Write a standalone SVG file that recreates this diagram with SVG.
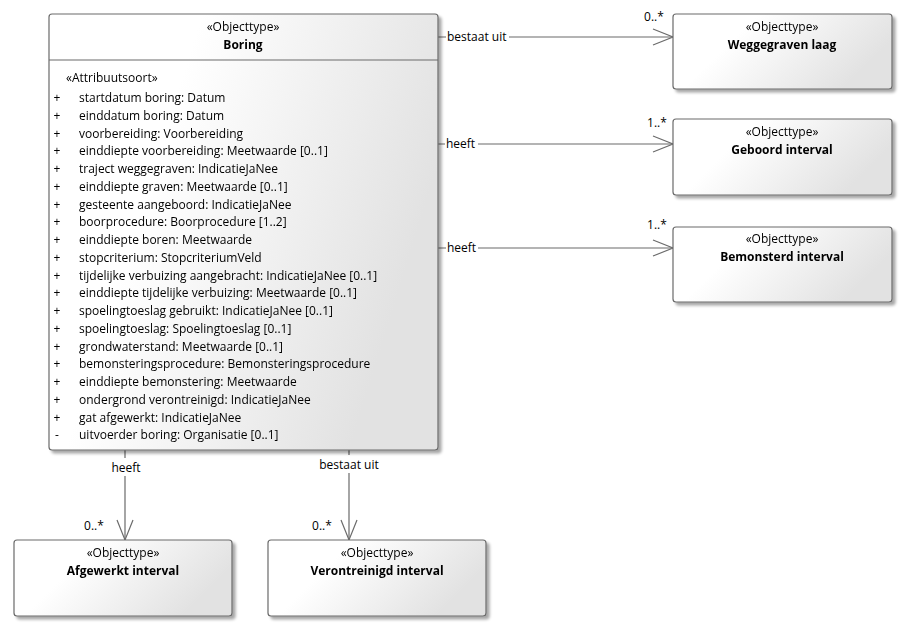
<svg xmlns="http://www.w3.org/2000/svg" width="907" height="632" viewBox="0 0 907 632">
<defs>
<linearGradient id="g" x1="0" y1="0" x2="1" y2="0.35">
<stop offset="0.35" stop-color="#ffffff"/>
<stop offset="1" stop-color="#e2e2e2"/>
</linearGradient>
<filter id="sh" x="-5%" y="-5%" width="115%" height="115%">
<feGaussianBlur in="SourceAlpha" stdDeviation="1.5"/>
<feOffset dx="3" dy="3"/>
<feComponentTransfer><feFuncA type="linear" slope="0.35"/></feComponentTransfer>
<feMerge><feMergeNode/><feMergeNode in="SourceGraphic"/></feMerge>
</filter>
</defs>
<style>
text{font-family:"Open Sans","Liberation Sans",Arial,sans-serif;font-size:12px;fill:#000}
.b{font-weight:bold}
.c{text-anchor:middle}
.box{fill:url(#g);stroke:#6b6b6b;stroke-width:1.2}
.ln{stroke:#6b6b6b;stroke-width:1.2;fill:none}
</style>
<rect width="907" height="632" fill="#fff"/>

<g id="connectors">
<g id="c1">
<path class="ln" d="M438,37 H446 M509,37 H673"/>
<path class="ln" d="M653,29 L673,37 L653,45"/>
<text x="447" y="41">bestaat uit</text>
<text x="654" y="21" class="c">0..*</text>
</g>
<g id="c2">
<path class="ln" d="M438,144 H445 M478,144 H673"/>
<path class="ln" d="M653,136 L673,144 L653,152"/>
<text x="446" y="148">heeft</text>
<text x="657" y="127" class="c">1..*</text>
</g>
<g id="c3">
<path class="ln" d="M438,248 H446 M478,248 H673"/>
<path class="ln" d="M653,240 L673,248 L653,256"/>
<text x="447" y="252">heeft</text>
<text x="657" y="229" class="c">1..*</text>
</g>
<g id="c4">
<path class="ln" d="M125,450 V458 M125,476 V540"/>
<path class="ln" d="M117,520 L125,540 L133,520"/>
<text x="126" y="472" class="c">heeft</text>
<text x="94" y="530" class="c">0..*</text>
</g>
<g id="c5">
<path class="ln" d="M349,450 V455 M349,473 V540"/>
<path class="ln" d="M341,520 L349,540 L357,520"/>
<text x="349" y="469" class="c">bestaat uit</text>
<text x="322" y="530" class="c">0..*</text>
</g>
</g>

<g id="boring" filter="url(#sh)">
<rect class="box" x="49" y="14" width="389" height="436" rx="3"/>
<line class="ln" x1="49" y1="60" x2="438" y2="60"/>
<text x="243" y="31" class="c">«Objecttype»</text>
<text x="243" y="49" class="c b">Boring</text>
<text x="66" y="82">«Attribuutsoort»</text>
<g>
<text x="57" y="102" class="c">+</text><text x="79" y="102">startdatum boring: Datum</text>
<text x="57" y="119.75" class="c">+</text><text x="79" y="119.75">einddatum boring: Datum</text>
<text x="57" y="137.5" class="c">+</text><text x="79" y="137.5">voorbereiding: Voorbereiding</text>
<text x="57" y="155.25" class="c">+</text><text x="79" y="155.25">einddiepte voorbereiding: Meetwaarde [0..1]</text>
<text x="57" y="173" class="c">+</text><text x="79" y="173">traject weggegraven: IndicatieJaNee</text>
<text x="57" y="190.75" class="c">+</text><text x="79" y="190.75">einddiepte graven: Meetwaarde [0..1]</text>
<text x="57" y="208.5" class="c">+</text><text x="79" y="208.5">gesteente aangeboord: IndicatieJaNee</text>
<text x="57" y="226.25" class="c">+</text><text x="79" y="226.25">boorprocedure: Boorprocedure [1..2]</text>
<text x="57" y="244" class="c">+</text><text x="79" y="244">einddiepte boren: Meetwaarde</text>
<text x="57" y="261.75" class="c">+</text><text x="79" y="261.75">stopcriterium: StopcriteriumVeld</text>
<text x="57" y="279.5" class="c">+</text><text x="79" y="279.5">tijdelijke verbuizing aangebracht: IndicatieJaNee [0..1]</text>
<text x="57" y="297.25" class="c">+</text><text x="79" y="297.25">einddiepte tijdelijke verbuizing: Meetwaarde [0..1]</text>
<text x="57" y="315" class="c">+</text><text x="79" y="315">spoelingtoeslag gebruikt: IndicatieJaNee [0..1]</text>
<text x="57" y="332.75" class="c">+</text><text x="79" y="332.75">spoelingtoeslag: Spoelingtoeslag [0..1]</text>
<text x="57" y="350.5" class="c">+</text><text x="79" y="350.5">grondwaterstand: Meetwaarde [0..1]</text>
<text x="57" y="368.25" class="c">+</text><text x="79" y="368.25">bemonsteringsprocedure: Bemonsteringsprocedure</text>
<text x="57" y="386" class="c">+</text><text x="79" y="386">einddiepte bemonstering: Meetwaarde</text>
<text x="57" y="403.75" class="c">+</text><text x="79" y="403.75">ondergrond verontreinigd: IndicatieJaNee</text>
<text x="57" y="421.5" class="c">+</text><text x="79" y="421.5">gat afgewerkt: IndicatieJaNee</text>
<text x="57" y="439.25" class="c">-</text><text x="79" y="439.25">uitvoerder boring: Organisatie [0..1]</text>
</g>
</g>

<g id="weggegraven" filter="url(#sh)">
<rect class="box" x="673" y="14" width="219" height="75" rx="3"/>
<text x="782" y="31" class="c">«Objecttype»</text>
<text x="782" y="49" class="c b">Weggegraven laag</text>
</g>
<g id="geboord" filter="url(#sh)">
<rect class="box" x="673" y="119" width="219" height="76" rx="3"/>
<text x="782" y="136" class="c">«Objecttype»</text>
<text x="782" y="154" class="c b">Geboord interval</text>
</g>
<g id="bemonsterd" filter="url(#sh)">
<rect class="box" x="673" y="227" width="219" height="75" rx="3"/>
<text x="782" y="243" class="c">«Objecttype»</text>
<text x="782" y="261" class="c b">Bemonsterd interval</text>
</g>
<g id="afgewerkt" filter="url(#sh)">
<rect class="box" x="14" y="540" width="218" height="76" rx="3"/>
<text x="123" y="557" class="c">«Objecttype»</text>
<text x="123" y="575" class="c b">Afgewerkt interval</text>
</g>
<g id="verontreinigd" filter="url(#sh)">
<rect class="box" x="268" y="540" width="218" height="76" rx="3"/>
<text x="377" y="557" class="c">«Objecttype»</text>
<text x="377" y="575" class="c b">Verontreinigd interval</text>
</g>
</svg>
